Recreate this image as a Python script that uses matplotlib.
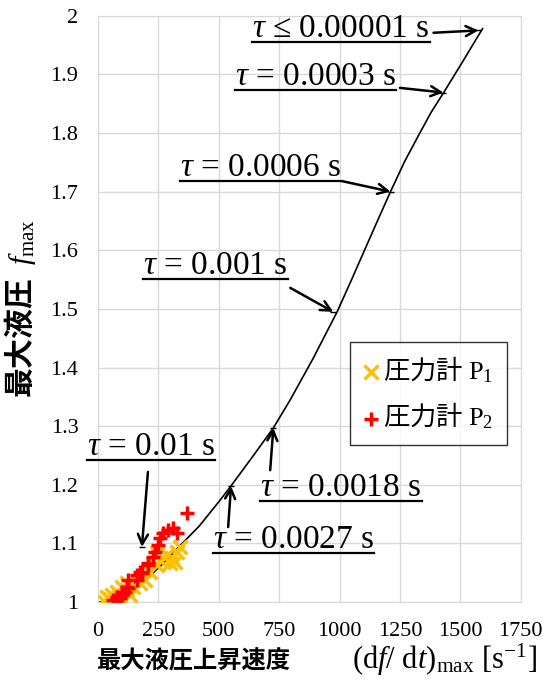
import matplotlib
matplotlib.use("Agg")
import matplotlib.pyplot as plt
from matplotlib.lines import Line2D

plt.rcParams['mathtext.fontset'] = 'custom'
plt.rcParams['mathtext.rm'] = 'Liberation Serif'
plt.rcParams['mathtext.it'] = 'Liberation Serif:italic'
plt.rcParams['mathtext.bf'] = 'Liberation Serif:bold'

serif = 'Liberation Serif'
cjk = 'Noto Sans CJK JP'

# theoretical curve (df/dt)max vs fmax
curve_x = [0, 20, 60, 110, 160, 216, 260, 311, 420, 506, 547, 640, 726, 796, 890,
           990, 1050, 1100, 1160, 1211, 1270, 1335, 1380, 1431, 1510, 1551, 1592]
curve_y = [1.0, 1.0, 1.008, 1.022, 1.034, 1.045, 1.062, 1.084, 1.13, 1.174, 1.196,
           1.248, 1.297, 1.345, 1.415, 1.495, 1.55, 1.597, 1.653, 1.70, 1.752, 1.802,
           1.836, 1.869, 1.922, 1.950, 1.978]

# pressure gauge P1
p1_x = [29, 37, 50, 58, 79, 91, 99, 120, 120, 133, 145, 174, 195, 216, 244, 244,
        257, 286, 298, 307, 319, 327, 340]
p1_y = [1.000, 1.009, 1.006, 1.012, 1.017, 1.012, 1.026, 1.020, 1.032, 1.012, 1.026,
        1.032, 1.038, 1.051, 1.063, 1.083, 1.072, 1.080, 1.066, 1.075, 1.068, 1.085, 1.094]

# pressure gauge P2
p2_x = [62, 79, 79, 91, 99, 99, 112, 120, 124, 124, 162, 162, 174, 182, 207, 207,
        228, 236, 249, 257, 270, 290, 311, 327, 369]
p2_y = [1.003, 1.007, 1.009, 1.007, 1.012, 1.017, 1.017, 1.026, 1.024, 1.038, 1.038,
        1.046, 1.051, 1.049, 1.063, 1.067, 1.077, 1.085, 1.097, 1.109, 1.118, 1.123,
        1.126, 1.118, 1.152]

# tau annotations: label, point on curve
tau_labels = [r'$\tau$ ≤ 0.00001 s', r'$\tau$ = 0.0003 s', r'$\tau$ = 0.0006 s',
              r'$\tau$ = 0.001 s', r'$\tau$ = 0.0018 s', r'$\tau$ = 0.0027 s',
              r'$\tau$ = 0.01 s']
tau_x = [1575, 1430, 1211, 974, 726, 551, 182]
tau_y = [1.975, 1.869, 1.700, 1.495, 1.297, 1.198, 1.094]
# text anchor (left, baseline) and arrow tail, data coords
text_pos = [(638, 1.964), (568, 1.882), (340, 1.727), (187, 1.560),
            (672, 1.181), (477, 1.092), (-46, 1.251)]
tail_pos = [(1389, 1.971), (1250, 1.877), (1010, 1.718), (796, 1.536),
            (713, 1.225), (539, 1.128), (207, 1.222)]

x_ticks = [0, 250, 500, 750, 1000, 1250, 1500, 1750]
y_ticks = [1, 1.1, 1.2, 1.3, 1.4, 1.5, 1.6, 1.7, 1.8, 1.9, 2]
y_tick_labels = ['1', '1.1', '1.2', '1.3', '1.4', '1.5', '1.6', '1.7', '1.8', '1.9', '2']

fig = plt.figure(figsize=(5.47, 6.85), dpi=100)
ax = fig.add_axes([0.179, 0.121, 0.773, 0.856])

ax.plot(curve_x, curve_y, color='black', lw=1.2, zorder=2)
ax.plot(tau_x, tau_y, linestyle='None', marker='_', color='black', ms=4, mew=1, zorder=2)
ax.scatter(p1_x, p1_y, marker='x', s=100, color='#FFC000', linewidths=2.5, zorder=3,
           label='圧力計 $\\mathrm{P_1}$')
ax.scatter(p2_x, p2_y, marker='+', s=100, color='#FF0000', linewidths=2.5, zorder=4,
           label='圧力計 $\\mathrm{P_2}$')

ax.set_xlim(0, 1750)
ax.set_ylim(1, 2)
ax.set_xticks(x_ticks)
ax.set_yticks(y_ticks)
ax.set_yticklabels(y_tick_labels)
ax.tick_params(length=0, labelsize=16, pad=14)
for lab in ax.get_xticklabels() + ax.get_yticklabels():
    lab.set_fontfamily(serif)
ax.grid(True, color='#d9d9d9', lw=1)
ax.set_axisbelow(True)
for sp in ax.spines.values():
    sp.set_color('#d9d9d9')

# x label: CJK part and serif part as two pieces on one baseline
fig.text(97 / 547, 0.024, '最大液圧上昇速度', fontfamily=cjk, fontweight='bold',
         fontsize=17.5, ha='left', va='baseline')
fig.text(537 / 547, 0.024, '(d$f$/ d$t$)$_\\mathrm{max}$ [s$^{-1}$]', fontfamily=serif,
         fontsize=22, ha='right', va='baseline')
ax.set_ylabel('最大液圧  $f_\\mathrm{max}$', fontfamily=cjk, fontweight='bold',
              fontsize=21.5, labelpad=9)

leg = ax.legend(loc='lower left', bbox_to_anchor=(0.596, 0.268, 0.371, 0.171),
                mode='expand', prop={'family': cjk, 'size': 19}, frameon=True,
                fancybox=False, edgecolor='black', handletextpad=0.15,
                borderaxespad=0, borderpad=0.5, handlelength=0.6,
                labelspacing=0.6, scatterpoints=1, markerscale=1.0)
leg.get_frame().set_linewidth(1.0)

texts = []
for lab, (tx, ty), (ax0, ay0), px, py in zip(tau_labels, text_pos, tail_pos, tau_x, tau_y):
    t = ax.text(tx, ty, lab, fontfamily=serif, fontsize=24, ha='left', va='baseline',
                clip_on=False, zorder=5)
    texts.append(t)
    ax.annotate('', xy=(px, py), xytext=(ax0, ay0),
                arrowprops=dict(arrowstyle='->', color='black', lw=1.8,
                                mutation_scale=18, shrinkA=0, shrinkB=0), zorder=5)

fig.canvas.draw()
r = fig.canvas.get_renderer()
inv = fig.transFigure.inverted()
for t in texts:
    bb = t.get_window_extent(r)
    base = ax.transData.transform(t.get_position())[1]
    (x0, y0), (x1, _) = inv.transform([(bb.x0, base - 5), (bb.x1, base - 5)])
    fig.add_artist(Line2D([x0, x1], [y0, y0], color='black', lw=1.6))

fig.savefig('out.png', dpi=100)
